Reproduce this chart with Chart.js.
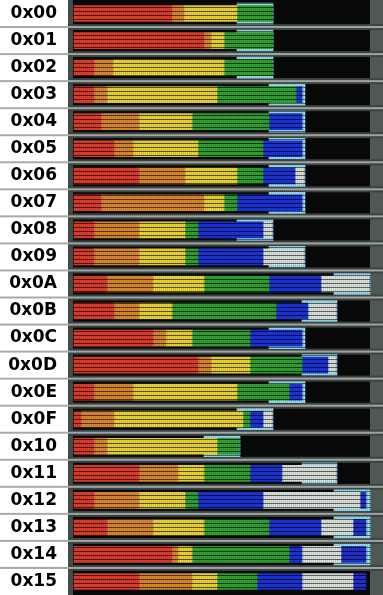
<!DOCTYPE html>
<html><head><meta charset="utf-8">
<style>html,body{margin:0;padding:0;background:#fff;}#wrap{width:383px;height:595px;position:relative;}</style>
<script src="https://cdn.jsdelivr.net/npm/chart.js@4.4.0/dist/chart.umd.min.js"></script>
</head><body><div id="wrap"><canvas id="c" width="383" height="595"></canvas></div>
<script>
const categories = ["0x00","0x01","0x02","0x03","0x04","0x05","0x06","0x07","0x08","0x09","0x0A","0x0B","0x0C","0x0D","0x0E","0x0F","0x10","0x11","0x12","0x13","0x14","0x15"];
const red    = [98,130,20,20,27,40,65,27,20,20,33,40,79,124,20,7,20,65,20,33,98,65];
const orange = [12,7,19,13,38,19,46,103,45,45,46,25,13,13,39,33,13,39,45,46,6,53];
const yellow = [53,13,111,110,53,65,52,20,46,46,51,33,26,39,104,129,110,26,46,51,14,25];
const green  = [36,49,49,79,77,65,26,13,13,13,65,104,58,52,52,7,22,46,13,65,97,40];
const blue   = [0,0,0,6,33,39,32,65,65,65,52,32,52,26,13,13,0,32,65,52,13,45];
const white  = [0,0,0,0,0,0,9,0,9,41,48,28,0,8,0,9,0,54,97,32,39,51];
const blue2  = [0,0,0,0,0,0,0,0,0,0,0,0,0,0,0,0,0,0,6,13,25,13];
const boxStart = [163,163,163,195,195,195,195,195,163,195,260,228,195,228,195,163,130,228,260,260,260,null];
const boxEnd   = [199,199,199,231,231,231,231,231,199,231,296,263,231,263,231,199,166,263,296,296,296,null];

function stripe(col, dark){
  const c = document.createElement('canvas'); c.width = 2; c.height = 4;
  const g = c.getContext('2d');
  g.fillStyle = col; g.fillRect(0,0,2,4);
  g.fillStyle = dark; g.fillRect(0,3,2,1);
  g.fillStyle = 'rgba(0,0,0,0.12)'; g.fillRect(1,0,1,3);
  return g.createPattern(c,'repeat');
}
const ctx = document.getElementById('c').getContext('2d');
const P = {
  red: stripe('#de4030','#5a1208'),
  orange: stripe('#dc8c2e','#5a300a'),
  yellow: stripe('#eed838','#5a500c'),
  green: stripe('#32a432','#0c3a0c'),
  blue: stripe('#1c34dc','#08104a'),
  white: stripe('#dfe4de','#5a6060'),
  blue2: stripe('#2230d0','#08104a'),
  cyan: stripe('#96dcec','#3a6a74')
};
const boxes = boxStart.map((s,i)=> s===null ? null : [s, boxEnd[i]]);

const bg = {
  id:'bg',
  beforeDraw(chart){
    const g = chart.ctx, a = chart.chartArea, y = chart.scales.y;
    g.save();
    g.fillStyle='#ffffff'; g.fillRect(0,0,chart.width,chart.height);
    g.fillStyle='#070807'; g.fillRect(a.left,0,chart.width-a.left,chart.height);
    const x0 = chart.scales.x.getPixelForValue(0);
    const xr = chart.scales.x.getPixelForValue(296);
    g.fillStyle='#434c48'; g.fillRect(a.left,0,x0-a.left-1,chart.height);
    g.fillStyle='#4e5854'; g.fillRect(xr,0,chart.width-xr,chart.height);
    for(let i=0;i<categories.length-1;i++){
      const yy = (y.getPixelForValue(i)+y.getPixelForValue(i+1))/2;
      g.fillStyle='#a8aaa8'; g.fillRect(0,yy-1,a.left,2);
      g.fillStyle='#3c4441'; g.fillRect(a.left,yy-3,chart.width-a.left,6);
      g.fillStyle='#a0a4a2'; g.fillRect(a.left,yy-1,chart.width-a.left,2);
    }
    g.restore();
  }
};

const mk = (label, data, pat) => ({label, data, backgroundColor: pat, borderWidth:0, barThickness:16, order:0, xAxisID:'x'});
new Chart(ctx, {
  type:'bar',
  data:{
    labels: categories,
    datasets:[
      {label:'box', data: boxes, backgroundColor: P.cyan, borderWidth:0, barThickness:21, grouped:false, order:10, xAxisID:'x2'},
      mk('red', red, P.red),
      mk('orange', orange, P.orange),
      mk('yellow', yellow, P.yellow),
      mk('green', green, P.green),
      mk('blue', blue, P.blue),
      mk('white', white, P.white),
      mk('blue2', blue2, P.blue2)
    ]
  },
  options:{
    indexAxis:'y',
    responsive:false,
    animation:false,
    layout:{padding:0},
    plugins:{legend:{display:false}, tooltip:{enabled:false}},
    scales:{
      x:{stacked:true, min:-6, max:309, display:false},
      x2:{stacked:false, min:-6, max:309, display:false},
      y:{stacked:true, offset:true,
         grid:{display:false, drawTicks:false},
         border:{display:false},
         ticks:{padding:11, color:'#000', font:{family:'DejaVu Sans', weight:'bold', size:17}},
         afterFit(s){ s.width = 68; s.paddingTop = 0; s.paddingBottom = 0; }
      }
    }
  },
  plugins:[bg]
});
</script></body></html>
